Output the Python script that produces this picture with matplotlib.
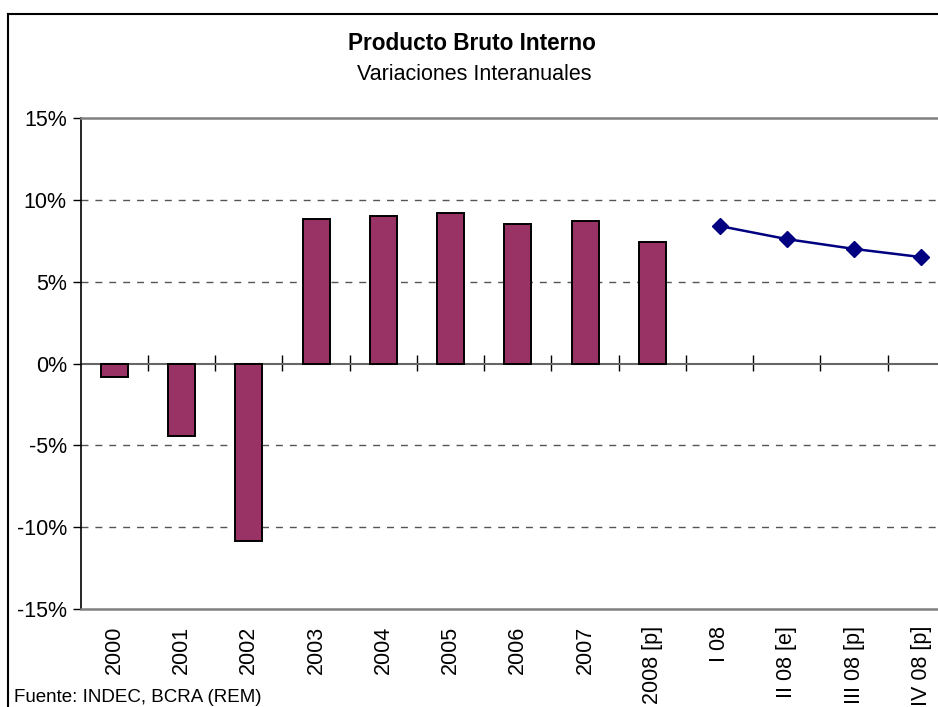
import matplotlib.pyplot as plt
from matplotlib.lines import Line2D
from matplotlib.ticker import FuncFormatter, FixedLocator, NullFormatter
import numpy as np

plt.rcParams["font.family"] = ["Liberation Sans", "DejaVu Sans"]

categories = ["2000", "2001", "2002", "2003", "2004", "2005", "2006", "2007",
              "2008 [p]", "I 08", "II 08 [e]", "III 08 [p]", "IV 08 [p]"]
annual_values = [-0.85, -4.4, -10.85, 8.8, 9.0, 9.2, 8.5, 8.7, 7.4]
quarterly_values = [8.4, 7.6, 7.0, 6.5]

W, H = 938, 707
fig = plt.figure(figsize=(W / 100, H / 100), dpi=100)

# axes placement in pixels (right edge runs past the figure, as in the source)
left_px, right_px, top_px, bottom_px = 80.7, 955, 118, 609
ax = fig.add_axes([left_px / W, 1 - bottom_px / H,
                   (right_px - left_px) / W, (bottom_px - top_px) / H])

x_annual = np.arange(len(annual_values))
x_quarter = np.arange(len(annual_values), len(categories))

ax.bar(x_annual, annual_values, width=0.4, color="#993366",
       edgecolor="black", linewidth=1.4, zorder=3)
ax.plot(x_quarter, quarterly_values, color="#000080", linewidth=1.8,
        marker="D", markersize=8, zorder=4)

ax.set_xlim(-0.5, len(categories) - 0.5)
ax.set_ylim(-15, 15)
ax.set_yticks(np.arange(-15, 16, 5))
ax.yaxis.set_major_formatter(FuncFormatter(lambda v, p: f"{v:.0f}%"))
ax.tick_params(axis="y", direction="out", length=6, width=1, colors="black",
               labelsize=15.5, pad=4)

for y in [-10, -5, 5, 10]:
    ax.axhline(y, color="#555555", linestyle=(0, (5, 5)), linewidth=1, zorder=1)
ax.axhline(0, color="#666666", linewidth=1.5, zorder=2)

for s in ["top", "bottom"]:
    ax.spines[s].set_color("#808080")
    ax.spines[s].set_linewidth(1.8)
ax.spines["right"].set_visible(False)
ax.spines["left"].set_color("black")
ax.spines["left"].set_linewidth(1.2)

ax.set_xticks(np.arange(len(categories)))
ax.set_xticklabels(categories, rotation=90, fontsize=15.5, va="top")
ax.tick_params(axis="x", length=0, pad=12)

# category boundary ticks crossing the zero line
sec = ax.secondary_xaxis(0.5)
sec.spines["bottom"].set_visible(False)
sec.spines["top"].set_visible(False)
sec.xaxis.set_major_locator(FixedLocator(np.arange(0.5, len(categories) - 0.5, 1)))
sec.xaxis.set_major_formatter(NullFormatter())
sec.tick_params(axis="x", direction="inout", length=12, width=1, color="black",
                labelbottom=False, labeltop=False)

fig.text(472 / W, 1 - 44 / H, "Producto Bruto Interno", ha="center",
         va="center", fontsize=16.3, fontweight="bold")
fig.text(474 / W, 1 - 75 / H, "Variaciones Interanuales", ha="center",
         va="center", fontsize=15.5)
fig.text(14 / W, 1 - 697 / H, "Fuente: INDEC, BCRA (REM)", ha="left",
         va="center", fontsize=13.5)

# outer chart frame
fig.add_artist(Line2D([8 / W, 8 / W], [0, 1 - 14 / H], transform=fig.transFigure,
                      color="black", linewidth=1.5))
fig.add_artist(Line2D([8 / W, 1], [1 - 14 / H, 1 - 14 / H], transform=fig.transFigure,
                      color="black", linewidth=1.5))

fig.savefig("out.png", dpi=100)
